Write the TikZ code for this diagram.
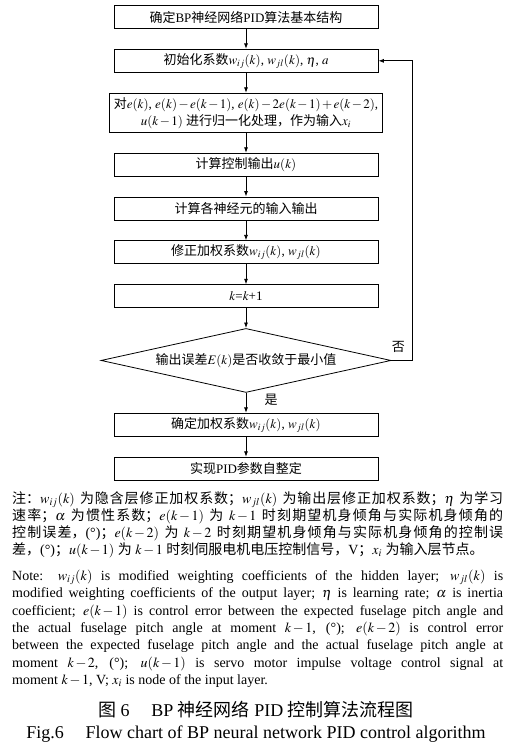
\documentclass[tikz,border=0pt]{standalone}
\usepackage{mathptmx}
\usepackage{fontspec}
\setmainfont{Liberation Serif}
\newfontfamily\cjkfont{Noto Sans CJK SC}
\usetikzlibrary{shapes.geometric, arrows.meta, positioning, calc}
% Chinese characters switch to the CJK family by themselves
\XeTeXlinebreaklocale "zh"
\XeTeXlinebreakskip=0pt plus 1pt
\chardef\cjkcls=41
\count255="4E00
\loop\XeTeXcharclass\count255=\cjkcls\ifnum\count255<"9FFF\advance\count255 by 1\repeat
\count255="3000
\loop\XeTeXcharclass\count255=\cjkcls\ifnum\count255<"303F\advance\count255 by 1\repeat
\count255="FF01
\loop\XeTeXcharclass\count255=\cjkcls\ifnum\count255<"FF60\advance\count255 by 1\repeat
\XeTeXinterchartoks 0 \cjkcls = {\cjkfont}
\XeTeXinterchartoks 4095 \cjkcls = {\cjkfont}
\XeTeXinterchartoks \cjkcls 0 = {\rmfamily}
\XeTeXinterchartoks \cjkcls 4095 = {\rmfamily}
\XeTeXinterchartokenstate=1
\medmuskip=2mu
\thickmuskip=4mu
\tikzset{
  box/.style={rectangle, draw=black, line width=0.8pt, minimum width=264pt,
              minimum height=23pt, align=center, inner sep=4pt,
              font=\fontsize{13}{17}\selectfont},
  decbox/.style={diamond, draw=black, line width=0.8pt, aspect=4.5,
              minimum width=290pt, minimum height=64pt, inner sep=0pt,
              font=\fontsize{13}{17}\selectfont},
  arrow/.style={-{Latex[length=5.5pt, width=4pt]}, line width=0.8pt},
  lbl/.style={font=\fontsize{13}{15}\selectfont, inner sep=0pt},
  notes/.style={inner sep=0pt},
  capt/.style={inner sep=0pt, font=\fontsize{18}{20}\selectfont},
}

\begin{document}
\begin{tikzpicture}[x=1pt, y=1pt, node distance=20pt]
  \useasboundingbox (0,0) rectangle (511,-752);

  \node[box] (b1) at (246,-17) {确定BP神经网络PID算法基本结构};
  \node[box, below=of b1] (b2) {初始化系数$w_{ij}(k)$, $w_{jl}(k)$, $\eta$, $a$};
  \node[box, below=of b2] (b3)
        {对$e(k)$, $e(k)-e(k-1)$, $e(k)-2e(k-1)+e(k-2)$,\\$u(k-1)$ 进行归一化处理，作为输入$x_i$};
  \node[box, below=of b3] (b4) {计算控制输出$u(k)$};
  \node[box, below=of b4] (b5) {计算各神经元的输入输出};
  \node[box, below=of b5] (b6) {修正加权系数$w_{ij}(k)$, $w_{jl}(k)$};
  \node[box, below=of b6] (b7) {$k$=$k$+1};
  \node[decbox, below=of b7] (dec) {输出误差$E(k)$是否收敛于最小值};
  \node[box, below=of dec] (b8) {确定加权系数$w_{ij}(k)$, $w_{jl}(k)$};
  \node[box, below=of b8] (b9) {实现PID参数自整定};

  \draw[arrow] (b1) -- (b2);
  \draw[arrow] (b2) -- (b3);
  \draw[arrow] (b3) -- (b4);
  \draw[arrow] (b4) -- (b5);
  \draw[arrow] (b5) -- (b6);
  \draw[arrow] (b6) -- (b7);
  \draw[arrow] (b7) -- (dec);
  \draw[arrow] (dec) -- (b8);
  \draw[arrow] (b8) -- (b9);
  \draw[arrow] (dec.east) -- ++(21,0) |- (b2.east);

  \node[lbl] (no) at ($(dec.east)+(7,14)$) {否};
  \node[lbl] (yes) at ($(dec.south)+(25,-7)$) {是};

  \node[notes, anchor=north west] (note) at (12,-491) {\parbox[t]{491pt}{%
    \fontsize{14}{17.2}\selectfont
    注：$w_{ij}(k)$ 为隐含层修正加权系数；$w_{jl}(k)$ 为输出层修正加权系数；$\eta$ 为学习\linebreak
    速率；$\alpha$ 为惯性系数；$e(k-1)$ 为 $k-1$ 时刻期望机身倾角与实际机身倾角的\linebreak
    控制误差，(°)；$e(k-2)$ 为 $k-2$ 时刻期望机身倾角与实际机身倾角的控制误\linebreak
    差，(°)；$u(k-1)$ 为 $k-1$ 时刻伺服电机电压控制信号，V；$x_i$ 为输入层节点。\par
    \vspace{8.3pt}
    \fontsize{14}{17.4}\selectfont
    Note: $w_{ij}(k)$ is modified weighting coefficients of the hidden layer; $w_{jl}(k)$ is\linebreak
    modified weighting coefficients of the output layer; $\eta$ is learning rate; $\alpha$ is inertia\linebreak
    coefficient; $e(k-1)$ is control error between the expected fuselage pitch angle and\linebreak
    the actual fuselage pitch angle at moment $k-1$, (°); $e(k-2)$ is control error\linebreak
    between the expected fuselage pitch angle and the actual fuselage pitch angle at\linebreak
    moment $k-2$, (°); $u(k-1)$ is servo motor impulse voltage control signal at\linebreak
    moment $k-1$, V; $x_i$ is node of the input layer.\par}};

  \node[capt] (cap1) at (256,-710) {图 6\hspace{1.2em}BP 神经网络 PID 控制算法流程图};
  \node[capt] (cap2) at (256,-734) {Fig.6\hspace{1.2em}Flow chart of BP neural network PID control algorithm};
\end{tikzpicture}
\end{document}
